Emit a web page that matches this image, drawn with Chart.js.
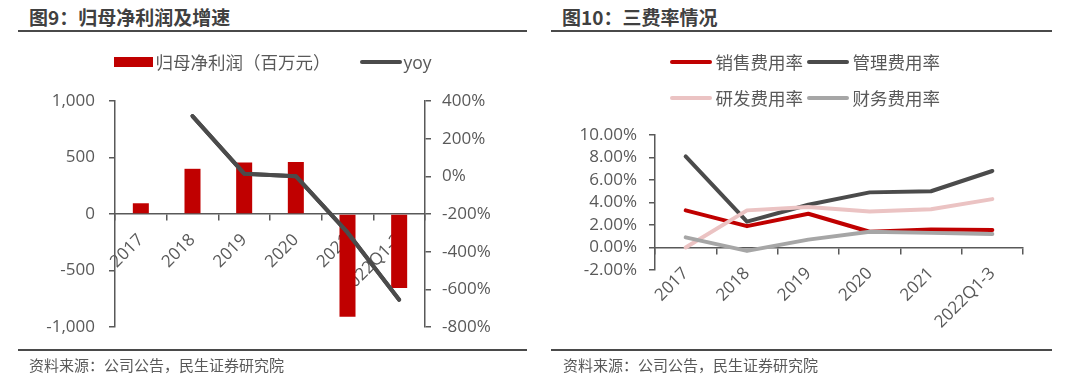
<!DOCTYPE html>
<html><head><meta charset="utf-8">
<script src="https://cdn.jsdelivr.net/npm/chart.js@4.4.1/dist/chart.umd.min.js"></script>
<style>
html,body{margin:0;padding:0;background:#fff;}
body{width:1070px;height:384px;position:relative;overflow:hidden;}
.title{position:absolute;top:5px;font-family:"Noto Sans CJK SC",sans-serif;font-weight:bold;font-size:19px;line-height:24px;color:#404040;white-space:nowrap;}
.rule{position:absolute;height:2px;background:#4a4a4a;}
.src{position:absolute;top:355px;font-family:"Noto Sans CJK SC",sans-serif;font-size:15px;line-height:20px;color:#595959;white-space:nowrap;}
canvas{position:absolute;top:0;}
.li{position:absolute;height:22px;display:flex;align-items:center;font-family:"Open Sans","Noto Sans CJK SC",sans-serif;font-size:17.5px;line-height:22px;color:#595959;white-space:nowrap;}
.sw{display:inline-block;flex:none;}
</style></head>
<body>
<div class="title" style="left:29px">图9：归母净利润及增速</div>
<div class="rule" style="left:18px;width:509px;top:30px"></div>
<div class="title" style="left:562px">图10：三费率情况</div>
<div class="rule" style="left:551px;width:501px;top:30px"></div>
<canvas id="c1" width="535" height="384" style="left:0px;width:535px;height:384px"></canvas>
<canvas id="c2" width="535" height="384" style="left:535px;width:535px;height:384px"></canvas>
<div id="lg"></div>
<div class="rule" style="left:18px;width:509px;top:349px"></div>
<div class="rule" style="left:551px;width:501px;top:349px"></div>
<div class="src" style="left:29px">资料来源：公司公告，民生证券研究院</div>
<div class="src" style="left:563px">资料来源：公司公告，民生证券研究院</div>
<script>
// ---------- data ----------
const categories = ['2017', '2018', '2019', '2020', '2021', '2022Q1-3'];
// 图9
const netProfit = [95, 400, 455, 460, -910, -655];          // 归母净利润（百万元）
const netProfitYoY = [null, 320, 14, 1, -298, -655];        // yoy (%)
const profitTicks = [-1000, -500, 0, 500, 1000];
const yoyTicks = [-800, -600, -400, -200, 0, 200, 400];
// 图10
const salesRate = [3.3, 1.9, 3.0, 1.4, 1.6, 1.55];          // 销售费用率 (%)
const adminRate = [8.1, 2.3, 3.8, 4.9, 5.0, 6.8];           // 管理费用率 (%)
const rdRate = [0.0, 3.3, 3.6, 3.2, 3.4, 4.3];              // 研发费用率 (%)
const finRate = [0.9, -0.3, 0.7, 1.4, 1.3, 1.2];            // 财务费用率 (%)
const rateTicks = [-2, 0, 2, 4, 6, 8, 10];

// ---------- style ----------
const AX = '#595959';
const TXT = '#595959';
const FONT = {family: '"Open Sans","Noto Sans CJK SC",sans-serif', size: 17};
const RED = '#C00000', DARK = '#4B4B4B', PINK = '#EBC3C3', GREY = '#A6A6A6';

function yAxis(ticks, pos, width, fmt, pad) {
  return {
    type: 'linear', position: pos,
    min: Math.min(...ticks), max: Math.max(...ticks),
    afterBuildTicks: s => { s.ticks = ticks.map(v => ({value: v})); },
    afterFit: s => { s.width = width; },
    grid: {drawOnChartArea: false, tickLength: 6, color: AX, lineWidth: 1.5},
    border: {display: true, color: AX, width: 1.5},
    ticks: {font: FONT, color: TXT, padding: pad, callback: fmt, autoSkip: false}
  };
}
function xAxis(z) {
  return {
    type: 'category', position: {y: 0}, offset: true, z: z,
    grid: {offset: true, drawOnChartArea: false, tickLength: 6, color: AX, lineWidth: 1.5},
    border: {display: true, color: AX, width: 1.5},
    ticks: {font: FONT, color: TXT, minRotation: 45, maxRotation: 45, autoSkip: false, padding: 10}
  };
}
const common = {
  responsive: false, animation: false, devicePixelRatio: 1,
  plugins: {legend: {display: false}, tooltip: {enabled: false}},
};

// redraw line datasets above the (z=1) category axis, as in the source
const lineOnTop = {
  id: 'lineOnTop',
  afterDraw(chart) {
    chart.data.datasets.forEach((d, i) => {
      if (d.type === 'line') chart.getDatasetMeta(i).controller.draw();
    });
  }
};

// ---------- chart 1 ----------
const ds1 = [
  {type: 'bar', label: '归母净利润（百万元）', data: netProfit, yAxisID: 'y', backgroundColor: RED,
   barPercentage: 0.31, categoryPercentage: 1, order: 2},
  {type: 'line', label: 'yoy', data: netProfitYoY, yAxisID: 'y1', borderColor: DARK, backgroundColor: DARK,
   borderWidth: 4, pointRadius: 0, tension: 0, borderJoinStyle: 'round', borderCapStyle: 'round', order: 1}
];
new Chart(document.getElementById('c1'), {
  data: {labels: categories, datasets: ds1},
  options: Object.assign({}, common, {
    layout: {padding: {top: 101, bottom: 57, left: 0, right: 0}},
    scales: {
      x: xAxis(1),
      y: yAxis(profitTicks, 'left', 115, v => v.toLocaleString('en-US'), 14),
      y1: yAxis(yoyTicks, 'right', 110, v => v + '%', 11)
    }
  }),
  plugins: [lineOnTop]
});

// ---------- chart 2 ----------
function lineDs(label, data, color, order) {
  return {label, data, borderColor: color, backgroundColor: color, borderWidth: 4, pointRadius: 0,
          tension: 0, borderJoinStyle: 'round', borderCapStyle: 'round', order};
}
const ds2 = [
  lineDs('销售费用率', salesRate, RED, 4),
  lineDs('管理费用率', adminRate, DARK, 3),
  lineDs('研发费用率', rdRate, PINK, 2),
  lineDs('财务费用率', finRate, GREY, 1)
];
new Chart(document.getElementById('c2'), {
  type: 'line',
  data: {labels: categories, datasets: ds2},
  options: Object.assign({}, common, {
    layout: {padding: {top: 135, bottom: 114, left: 0, right: 47}},
    scales: {
      x: xAxis(0),
      y: yAxis(rateTicks, 'left', 120, v => v.toFixed(2) + '%', 12)
    }
  })
});

// ---------- HTML legends (labels/colours taken from the datasets) ----------
const lg = document.getElementById('lg');
function legendItem(ds, left, top, w, h, gap, radius) {
  const d = document.createElement('div');
  d.className = 'li';
  d.style.left = left + 'px'; d.style.top = top + 'px';
  const s = document.createElement('span');
  s.className = 'sw';
  s.style.width = w + 'px'; s.style.height = h + 'px';
  s.style.background = ds.type === 'bar' ? ds.backgroundColor : ds.borderColor;
  s.style.borderRadius = radius + 'px';
  s.style.marginRight = gap + 'px';
  d.appendChild(s);
  d.appendChild(document.createTextNode(ds.label));
  lg.appendChild(d);
}
legendItem(ds1[0], 114, 50.5, 39, 10, 2.5, 0);
legendItem(ds1[1], 360, 50.5, 42, 4, 1.5, 2);
legendItem(ds2[0], 670, 50.5, 42, 4, 3.5, 2);
legendItem(ds2[1], 807, 50.5, 42, 4, 3.5, 2);
legendItem(ds2[2], 670, 86.5, 42, 4, 3.5, 2);
legendItem(ds2[3], 807, 86.5, 42, 4, 3.5, 2);
</script>
</body></html>
